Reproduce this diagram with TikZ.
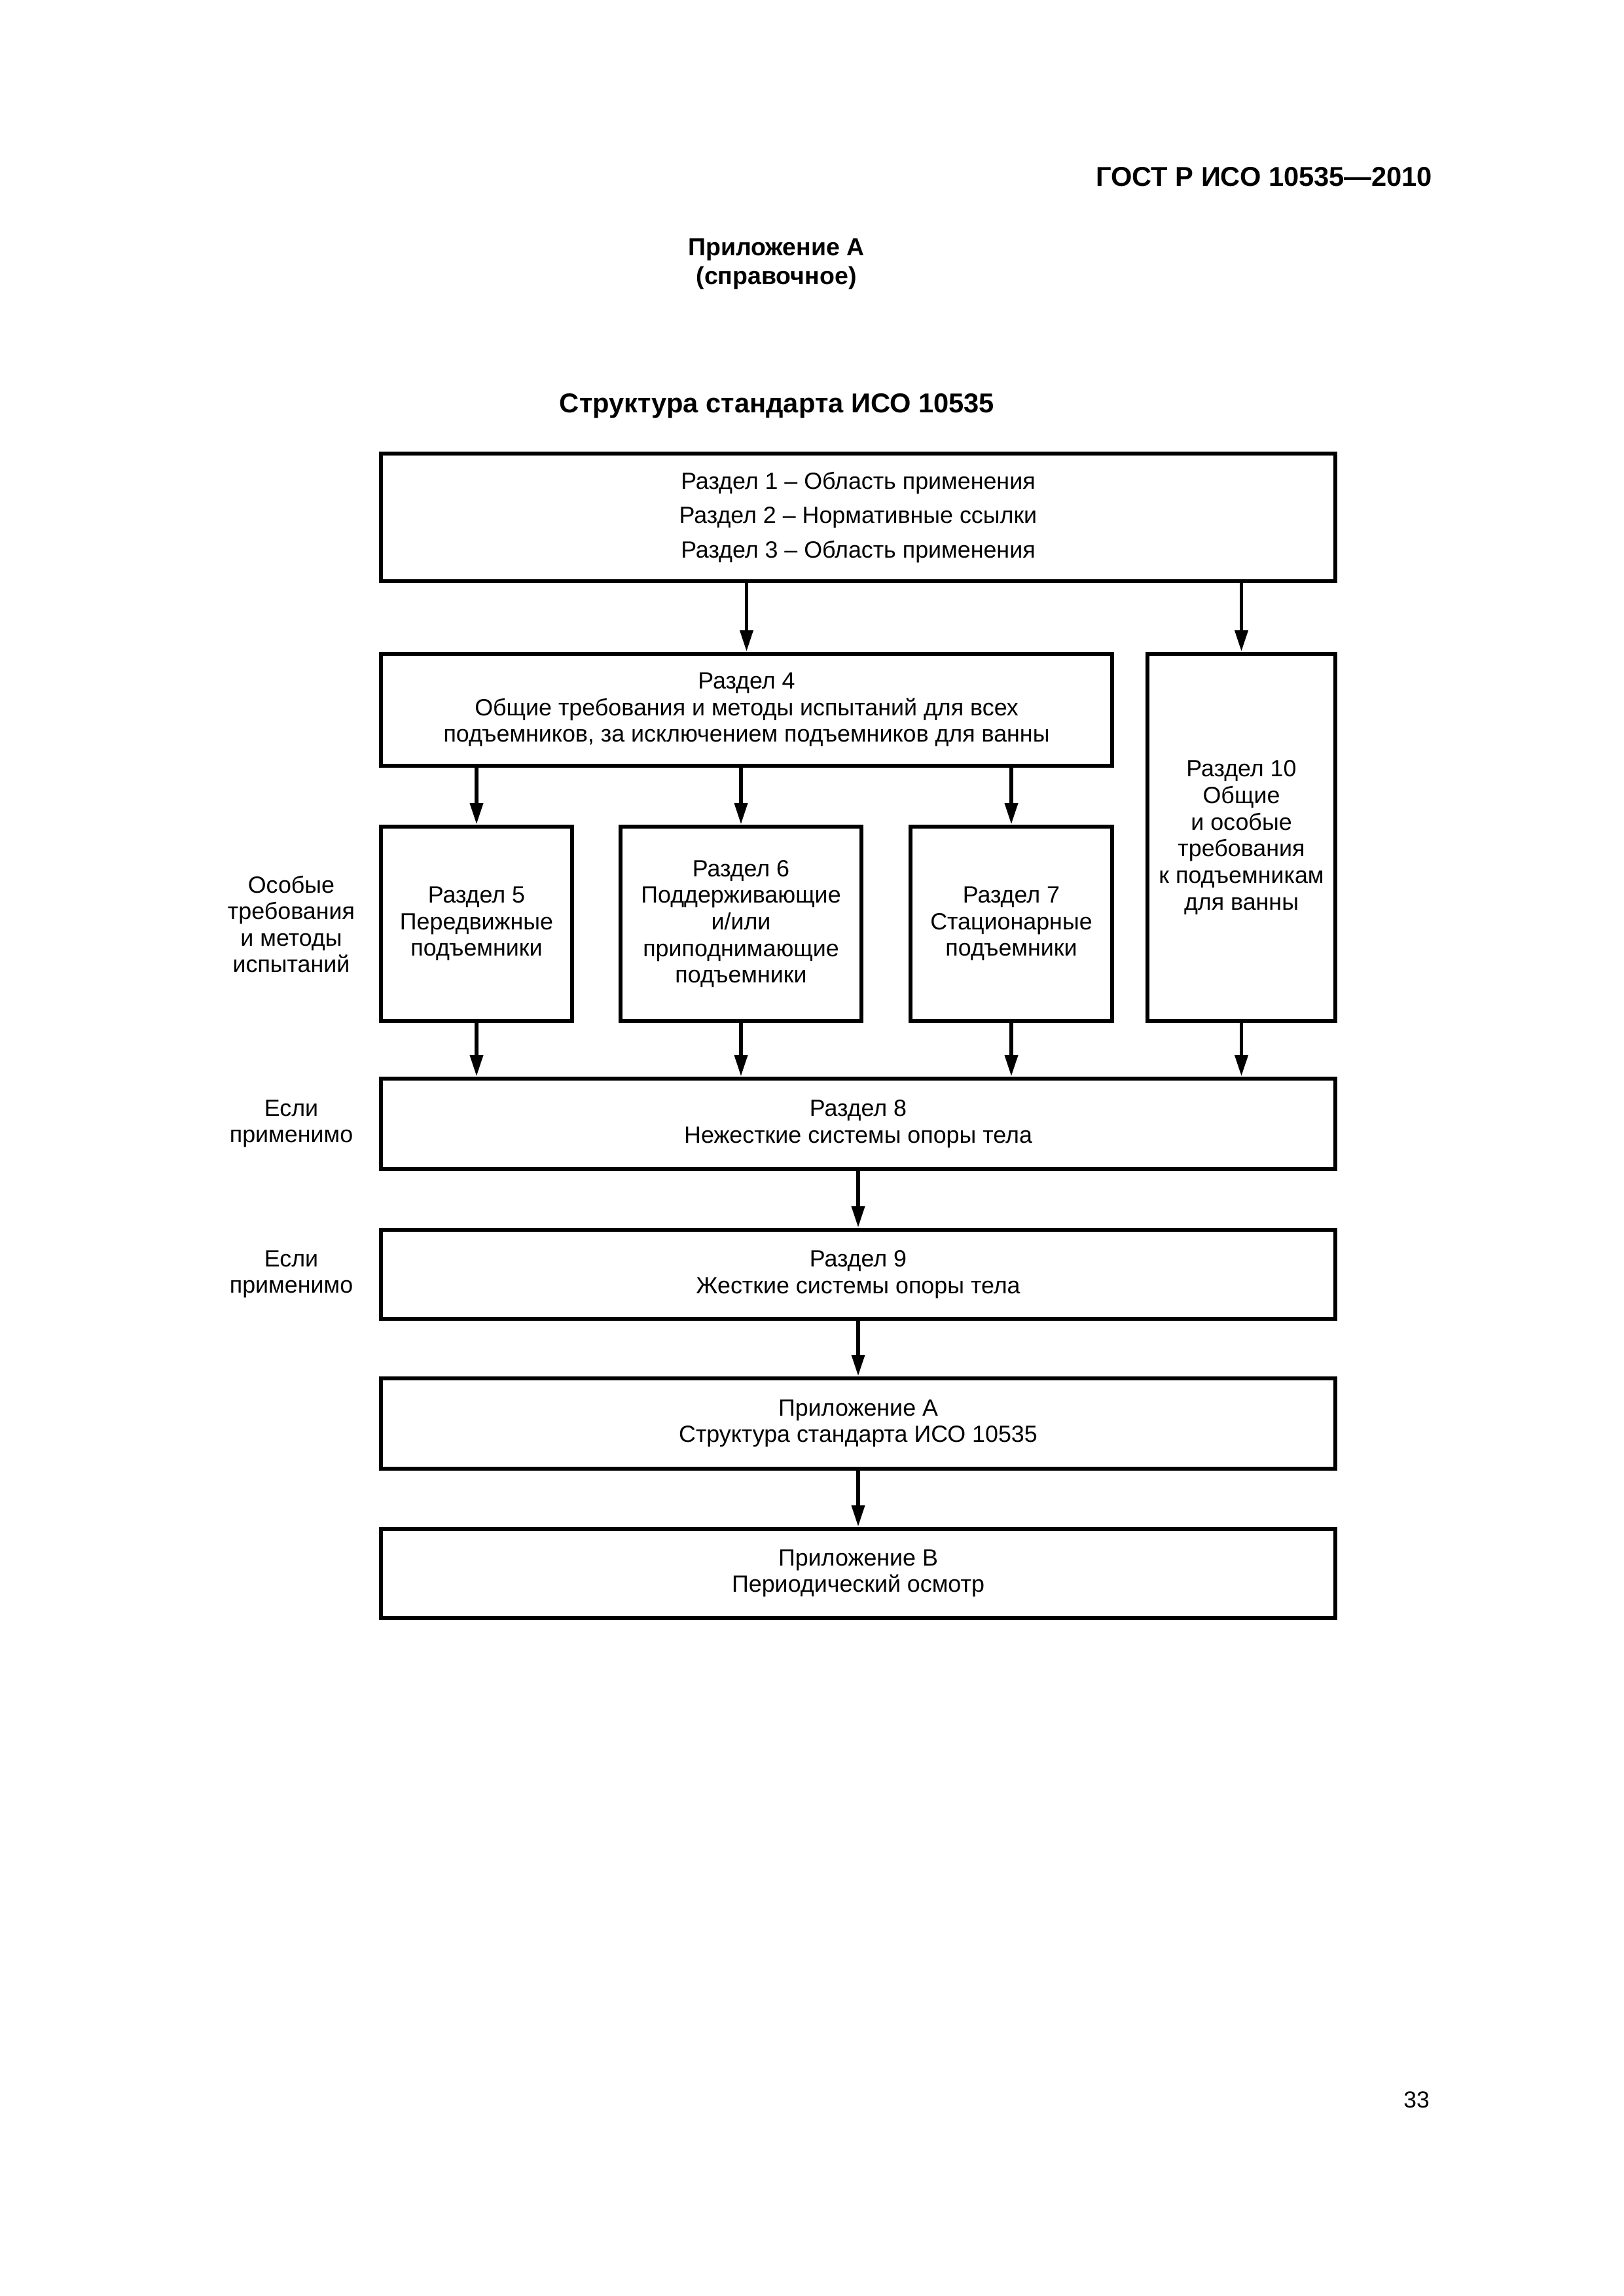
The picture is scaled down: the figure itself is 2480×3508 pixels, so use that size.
\documentclass[tikz,border=0pt]{standalone}
\usepackage{fontspec}
\setmainfont{Liberation Sans}
\usetikzlibrary{arrows.meta}
\def\pxu{0.24003pt}
\newcommand\mkbox[7]{\node[boxst,#7,minimum width={(#3-#2)*\pxu},minimum height={(#5-#4)*\pxu}] (#1) at ({(#2+#3)/2},{(#4+#5)/2}) {#6};}
\tikzset{
  boxst/.style={draw=black,line width=1.6pt,rectangle,inner sep=0pt,align=center,
    font=\fontsize{8.6}{9.75}\selectfont},
  lbl/.style={inner sep=0pt,align=center,font=\fontsize{8.6}{9.75}\selectfont},
  arr/.style={line width=1.4pt,-{Triangle[width=4.6pt,length=7.8pt]}}
}
\begin{document}
\begin{tikzpicture}[x=0.24003pt,y=-0.24003pt]
\useasboundingbox (0,0) rectangle (2480,3508);
% header texts
\node[inner sep=0pt,anchor=base east,font=\fontsize{10}{12}\selectfont\bfseries] (hdr) at (2189,284) {ГОСТ Р ИСО 10535—2010};
\node[inner sep=0pt,anchor=base,font=\fontsize{9}{11}\selectfont\bfseries] (app) at (1186,390) {Приложение А};
\node[inner sep=0pt,anchor=base,font=\fontsize{9}{11}\selectfont\bfseries] (ref) at (1186,434) {(справочное)};
\node[inner sep=0pt,anchor=base,font=\fontsize{10}{12}\selectfont\bfseries] (ttl) at (1187,630) {Структура стандарта ИСО 10535};
\node[inner sep=0pt,anchor=base,font=\fontsize{8.5}{10}\selectfont] (pg) at (2164,3220) {33};
% boxes
\mkbox{b1}{582}{2040}{693}{888}{Раздел 1 – Область применения\\Раздел 2 – Нормативные ссылки\\Раздел 3 – Область применения}{font=\fontsize{8.6}{12.5}\selectfont}
\mkbox{b4}{582}{1699}{999}{1170}{Раздел 4\\Общие требования и методы испытаний для всех\\подъемников, за исключением подъемников для ванны}{}
\mkbox{b10}{1753}{2040}{999}{1560}{Раздел 10\\Общие\\и особые\\требования\\к подъемникам\\для ванны}{}
\mkbox{b5}{582}{874}{1263}{1560}{Раздел 5\\Передвижные\\подъемники}{}
\mkbox{b6}{948}{1316}{1263}{1560}{Раздел 6\\Поддерживающие\\и/или\\приподнимающие\\подъемники}{}
\mkbox{b7}{1391}{1699}{1263}{1560}{Раздел 7\\Стационарные\\подъемники}{}
\mkbox{b8}{582}{2040}{1648}{1786}{Раздел 8\\Нежесткие системы опоры тела}{}
\mkbox{b9}{582}{2040}{1879}{2015}{Раздел 9\\Жесткие системы опоры тела}{}
\mkbox{bA}{582}{2040}{2106}{2244}{Приложение А\\Структура стандарта ИСО 10535}{}
\mkbox{bB}{582}{2040}{2336}{2472}{Приложение В\\Периодический осмотр}{}
% side labels
\node[lbl] (l1) at (445,1412) {Особые\\требования\\и методы\\испытаний};
\node[lbl] (l2) at (445,1717) {Если\\применимо};
\node[lbl] (l3) at (445,1947) {Если\\применимо};
% arrows
\draw[arr] (b1.south -| b4) -- (b4.north);
\draw[arr] (b1.south -| b10) -- (b10.north);
\draw[arr] (b4.south -| b5) -- (b5.north);
\draw[arr] (b4.south -| b6) -- (b6.north);
\draw[arr] (b4.south -| b7) -- (b7.north);
\draw[arr] (b5.south) -- (b5.south |- b8.north);
\draw[arr] (b6.south) -- (b6.south |- b8.north);
\draw[arr] (b7.south) -- (b7.south |- b8.north);
\draw[arr] (b10.south) -- (b10.south |- b8.north);
\draw[arr] (b8.south) -- (b9.north);
\draw[arr] (b9.south) -- (bA.north);
\draw[arr] (bA.south) -- (bB.north);
\end{tikzpicture}
\end{document}
